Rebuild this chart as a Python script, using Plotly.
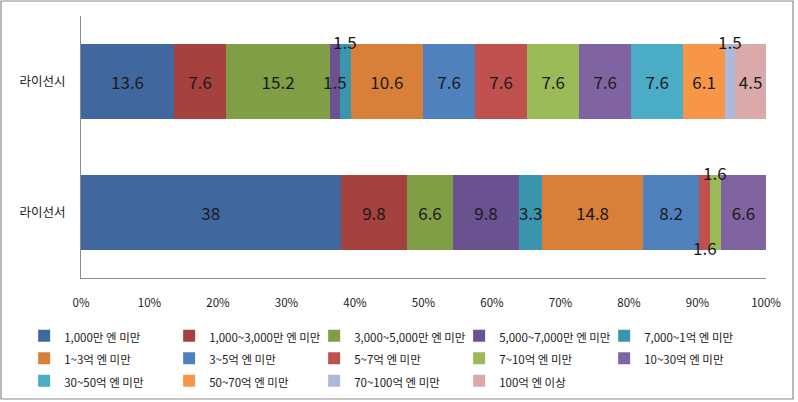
import plotly.graph_objects as go

categories = ["라이선서", "라이선시"]
series_names = [
    "1,000만 엔 미만", "1,000~3,000만 엔 미만", "3,000~5,000만 엔 미만",
    "5,000~7,000만 엔 미만", "7,000~1억 엔 미만", "1~3억 엔 미만",
    "3~5억 엔 미만", "5~7억 엔 미만", "7~10억 엔 미만", "10~30억 엔 미만",
    "30~50억 엔 미만", "50~70억 엔 미만", "70~100억 엔 미만", "100억 엔 이상",
]
licensor = [38, 9.8, 6.6, 9.8, 3.3, 14.8, 8.2, 1.6, 1.6, 6.6, 0, 0, 0, 0]
licensee = [13.6, 7.6, 15.2, 1.5, 1.5, 10.6, 7.6, 7.6, 7.6, 7.6, 7.6, 6.1, 1.5, 4.5]
colors = [
    "#41689E", "#A5423F", "#7F9E45", "#6A5190", "#3A96AE", "#D8803A",
    "#4F81BD", "#C0504D", "#9BBB59", "#8064A2", "#4BACC6", "#F79646",
    "#AABAD8", "#D9AAA9",
]
# labels drawn as annotations: (category index, series index, direction: 1 above, -1 below, 0 centered)
free_labels = [(1, 3, 0), (1, 4, 1), (1, 12, 1), (0, 7, -1), (0, 8, 1)]

LABEL_FONT = dict(family="Noto Sans CJK KR", size=17, color="#1a1a1a")

fig = go.Figure()
free_set = {(c, s) for c, s, _ in free_labels}
for i, name in enumerate(series_names):
    vals = [licensor[i], licensee[i]]
    texts = []
    for c, v in enumerate(vals):
        if v == 0 or (c, i) in free_set:
            texts.append("")
        else:
            texts.append(f"{v:g}")
    fig.add_trace(go.Bar(
        y=categories, x=vals, orientation="h",
        name=f'<span style="font-size:11.5px">{name}</span>',
        marker=dict(color=colors[i], line=dict(width=0)),
        text=texts, textposition="inside", insidetextanchor="middle",
        textangle=0, constraintext="none",
        textfont=LABEL_FONT,
        hoverinfo="skip",
    ))

data_rows = [licensor, licensee]
for c, s, d in free_labels:
    row = data_rows[c]
    total = sum(row)
    mid = (sum(row[:s]) + row[s] / 2) / total * 100
    fig.add_annotation(
        x=mid, y=categories[c], xref="x", yref="y",
        text=f"{row[s]:g}", showarrow=False,
        yshift=40 if d > 0 else (-35 if d < 0 else 0),
        font=LABEL_FONT,
    )

fig.add_shape(type="rect", xref="paper", yref="paper",
              x0=-80 / 685, x1=712 / 685, y0=-121 / 262, y1=(262 + 15) / 262,
              line=dict(color="#8c8c8c", width=1.2), fillcolor="rgba(0,0,0,0)",
              layer="below")

fig.update_layout(
    width=798, height=402,
    margin=dict(l=81, r=32, t=16, b=124, autoexpand=False),
    barmode="stack", barnorm="percent", bargap=0.425,
    paper_bgcolor="white", plot_bgcolor="white",
    font=dict(family="Noto Sans CJK KR", color="#1a1a1a"),
    xaxis=dict(range=[0, 100], tickvals=list(range(0, 101, 10)),
               ticktext=[f"{v}%" for v in range(0, 101, 10)],
               showgrid=False, zeroline=False, showline=True,
               linecolor="#8c8c8c", linewidth=1.2, ticks="", ticklen=0,
               ticklabelstandoff=14,
               tickfont=dict(size=11.5, family="Noto Sans CJK KR"), automargin=False),
    yaxis=dict(type="category", categoryorder="array", categoryarray=categories,
               range=[-0.5, 1.5], showgrid=False, showline=True,
               linecolor="#8c8c8c", linewidth=1.2, ticks="", ticklen=0,
               ticklabelstandoff=12,
               tickfont=dict(size=12.5, family="Noto Sans CJK KR"),
               automargin=False),
    showlegend=True,
    legend=dict(orientation="h", x=-0.083, xanchor="left", y=-0.158, yanchor="top",
                entrywidth=100, entrywidthmode="pixels", traceorder="normal",
                font=dict(size=15, family="Noto Sans CJK KR", color="#1a1a1a"),
                bgcolor="rgba(0,0,0,0)", itemclick=False),
)

fig.write_html("out.html")
